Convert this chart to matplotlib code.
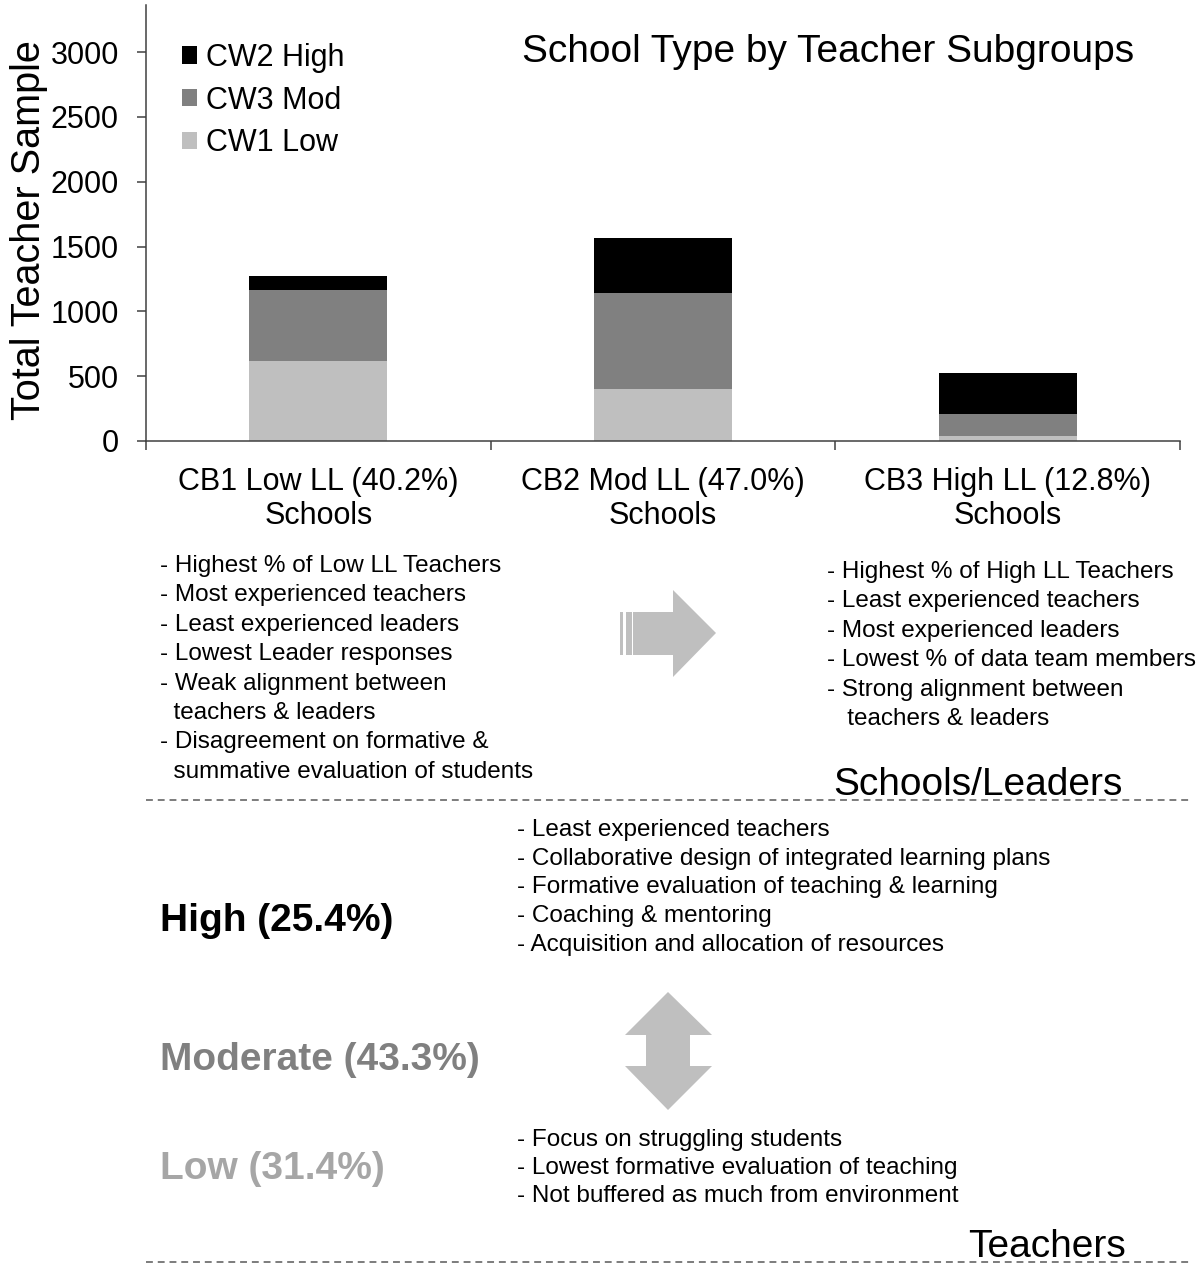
import matplotlib
matplotlib.use("Agg")
import matplotlib.pyplot as plt
from matplotlib.patches import Polygon

plt.rcParams["font.family"] = ["Liberation Sans", "DejaVu Sans"]

# ---- data -------------------------------------------------------------
school_types = ["CB1 Low LL (40.2%)\nSchools",
                "CB2 Mod LL (47.0%)\nSchools",
                "CB3 High LL (12.8%)\nSchools"]
cw1_low = [619, 398, 39]
cw3_mod = [546, 743, 169]
cw2_high = [108, 422, 314]
y_ticks = [0, 500, 1000, 1500, 2000, 2500, 3000]

cb1_notes = ["- Highest % of Low LL Teachers",
             "- Most experienced teachers",
             "- Least experienced leaders",
             "- Lowest Leader responses",
             "- Weak alignment between",
             "  teachers & leaders",
             "- Disagreement on formative &",
             "  summative evaluation of students"]
cb3_notes = ["- Highest % of High LL Teachers",
             "- Least experienced teachers",
             "- Most experienced leaders",
             "- Lowest % of data team members",
             "- Strong alignment between",
             "   teachers & leaders"]
high_notes = ["- Least experienced teachers",
              "- Collaborative design of integrated learning plans",
              "- Formative evaluation of teaching & learning",
              "- Coaching & mentoring",
              "- Acquisition and allocation of resources"]
low_notes = ["- Focus on struggling students",
             "- Lowest formative evaluation of teaching",
             "- Not buffered as much from environment"]
teacher_groups = ["High (25.4%)", "Moderate (43.3%)", "Low (31.4%)"]

# ---- figure -----------------------------------------------------------
W, H = 1204, 1264
fig = plt.figure(figsize=(W / 100, H / 100), dpi=100)

# full-figure overlay in pixel units for annotations
ov = fig.add_axes([0, 0, 1, 1], zorder=0)
ov.set_xlim(0, W)
ov.set_ylim(H, 0)
ov.axis("off")
ov.patch.set_alpha(0)

ax = fig.add_axes([146 / W, 1 - 441 / H, 1034 / W, 436 / H], zorder=1)
ax.patch.set_alpha(0)

x = list(range(len(school_types)))
bw = 0.4
b1 = ax.bar(x, cw1_low, bw, color="#bfbfbf", label="CW1 Low")
bottom2 = cw1_low
b3 = ax.bar(x, cw3_mod, bw, bottom=bottom2, color="#808080", label="CW3 Mod")
bottom3 = [a + b for a, b in zip(cw1_low, cw3_mod)]
b2 = ax.bar(x, cw2_high, bw, bottom=bottom3, color="#000000", label="CW2 High")

ax.set_xlim(-0.5, 2.5)
ax.set_ylim(0, 3364)
spine_c = "#404040"
for s in ("top", "right"):
    ax.spines[s].set_visible(False)
for s in ("left", "bottom"):
    ax.spines[s].set_color(spine_c)
    ax.spines[s].set_linewidth(1.1)

ax.set_yticks(y_ticks)
ax.set_yticklabels([str(v) for v in y_ticks])
ax.tick_params(axis="y", direction="out", length=6.5, width=1.1,
               color=spine_c, labelsize=22, pad=13)

ax.set_xticks(x)
ax.set_xticklabels(school_types, fontsize=22, linespacing=1.18)
ax.tick_params(axis="x", which="major", length=0, pad=18.5)
ax.set_xticks([-0.5, 0.5, 1.5, 2.5], minor=True)
ax.tick_params(axis="x", which="minor", direction="out", length=6.5,
               width=1.1, color=spine_c)

ax.set_ylabel("Total Teacher Sample", fontsize=28.5, va="center")
ax.yaxis.set_label_coords((29 - 146) / 1034, (441 - 230) / 436)

leg = ax.legend(handles=[b2, b3, b1], loc="upper left",
                bbox_to_anchor=(182 / W, 1 - 43 / H),
                bbox_transform=fig.transFigure, frameon=False,
                fontsize=22, handlelength=0.5, handleheight=0.5,
                handletextpad=0.3, labelspacing=0.41, borderpad=0,
                borderaxespad=0)

# ---- titles and notes -------------------------------------------------
ov.text(828, 62, "School Type by Teacher Subgroups", fontsize=28,
        ha="center", va="baseline")


def note_block(lines, x0, y0, step, size=17.5):
    for i, t in enumerate(lines):
        ov.text(x0, y0 + i * step, t, fontsize=size, ha="left",
                va="baseline")


note_block(cb1_notes, 160, 572, 29.4)
note_block(cb3_notes, 827, 578, 29.4)
note_block(high_notes, 517, 836, 28.7)
note_block(low_notes, 517, 1146, 28.2)

ov.text(833, 795, "Schools/Leaders", fontsize=28, ha="left", va="baseline")
ov.text(968, 1257, "Teachers", fontsize=28, ha="left", va="baseline")

group_colors = ["#000000", "#808080", "#a6a6a6"]
group_base = [931, 1070, 1179]
for t, c, yb in zip(teacher_groups, group_colors, group_base):
    ov.text(160, yb, t, fontsize=28, fontweight="bold", color=c,
            ha="left", va="baseline")

# dashed separators
dash = (0, (4.5, 3.2))
ov.plot([146, 1192], [800, 800], color="#595959", lw=1.1, ls=dash)
ov.plot([146, 1192], [1262, 1262], color="#595959", lw=1.1, ls=dash)

# right-pointing arrow with trailing stripes
arrow_c = "#bfbfbf"
ov.add_patch(Polygon([(633, 612), (673, 612), (673, 590), (716, 633),
                      (673, 677), (673, 655), (633, 655)],
                     closed=True, color=arrow_c, lw=0))
ov.add_patch(Polygon([(620, 612), (623.3, 612), (623.3, 655), (620, 655)],
                     closed=True, color=arrow_c, lw=0))
ov.add_patch(Polygon([(626, 612), (631.7, 612), (631.7, 655), (626, 655)],
                     closed=True, color=arrow_c, lw=0))

# double-headed vertical arrow
ov.add_patch(Polygon([(668, 992), (712, 1035), (690, 1035), (690, 1066),
                      (712, 1066), (668, 1110), (625, 1066), (646, 1066),
                      (646, 1035), (625, 1035)],
                     closed=True, color=arrow_c, lw=0))

fig.savefig("out.png", dpi=100)
